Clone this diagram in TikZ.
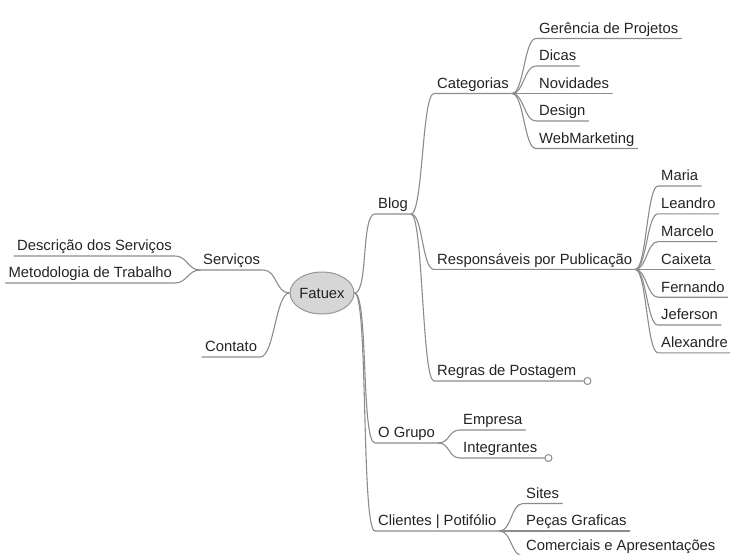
\documentclass[tikz,border=0pt]{standalone}
\usepackage{fontspec}
\setmainfont{Liberation Sans}
\usepackage{tikz}
\usetikzlibrary{shapes.geometric}
\definecolor{ink}{RGB}{35, 35, 35}
\definecolor{branch}{RGB}{140, 140, 140}
\definecolor{bubble}{RGB}{214, 214, 214}
\definecolor{bubbleline}{RGB}{150, 150, 150}

\begin{document}
\begin{tikzpicture}[x=1pt, y=-1pt,
  topic/.style={anchor=south west, inner xsep=3pt, inner ysep=2pt, text height=10.5pt, text depth=3pt, text=ink, font=\fontsize{14.8}{17}\selectfont},
  hub/.style={ellipse, draw=bubbleline, fill=bubble, line width=1pt, inner sep=0pt, minimum width=60pt, minimum height=42pt, text=ink, font=\fontsize{14.8}{17}\selectfont},
  link/.style={branch, line width=1.1pt, line cap=round},
  fold/.style={circle, draw=branch, fill=white, line width=1pt, inner sep=0pt, minimum size=7pt, anchor=west}]

  \pgfmathsetmacro{\cx}{536};
  \pgfmathsetmacro{\rx}{658};
  \pgfmathsetmacro{\gx}{460};
  \pgfmathsetmacro{\sx}{523};

  \useasboundingbox (0, 0) rectangle (730, 554);

  \node[hub] (fatuex) at (322, 293) { Fatuex };

  \node[topic] (servicos) at (200, 270) { Serviços };
  \node[topic, anchor=south east] (descricao) at (175, 256) { Descrição dos Serviços };
  \node[topic, anchor=south east] (metodologia) at (175, 283) { Metodologia de Trabalho };
  \node[topic] (contato) at (202, 357) { Contato };

  \node[topic] (blog) at (375, 214) { Blog };
  \node[topic] (categorias) at (434, 93.5) { Categorias };
  \node[topic] (gerencia) at (\cx, 38.5) { Gerência de Projetos };
  \node[topic] (dicas) at (\cx, 66) { Dicas };
  \node[topic] (novidades) at (\cx, 93.5) { Novidades };
  \node[topic] (design) at (\cx, 121) { Design };
  \node[topic] (webmkt) at (\cx, 148.5) { WebMarketing };

  \node[topic] (responsaveis) at (434, 269.4) { Responsáveis por Publicação };
  \node[topic] (maria) at (\rx, 186) { Maria };
  \node[topic] (leandro) at (\rx, 213.8) { Leandro };
  \node[topic] (marcelo) at (\rx, 241.6) { Marcelo };
  \node[topic] (caixeta) at (\rx, 269.4) { Caixeta };
  \node[topic] (fernando) at (\rx, 297.2) { Fernando };
  \node[topic] (jeferson) at (\rx, 325) { Jeferson };
  \node[topic] (alexandre) at (\rx, 352.8) { Alexandre };

  \node[topic] (regras) at (434, 381) { Regras de Postagem };
  \node[fold] (regrasfold) at ([xshift=4pt]regras.south east) {};

  \node[topic] (ogrupo) at (375, 443) { O Grupo };
  \node[topic] (empresa) at (\gx, 430) { Empresa };
  \node[topic] (integrantes) at (\gx, 458) { Integrantes };
  \node[fold] (integrantesfold) at ([xshift=4pt]integrantes.south east) {};

  \node[topic] (clientes) at (375, 531) { Clientes | Potifólio };
  \node[topic] (sites) at (\sx, 503.5) { Sites };
  \node[topic] (pecas) at (\sx, 531) { Peças Graficas };
  \node[topic] (comerciais) at (\sx, 556) { Comerciais e Apresentações };

  \draw[link] (fatuex.west) .. controls +(-14, 0) and +(14, 0) .. (servicos.south east) -- (servicos.south west);
  \draw[link] (servicos.south west) .. controls +(-12, 0) and +(12, 0) .. (descricao.south east) -- (descricao.south west);
  \draw[link] (servicos.south west) .. controls +(-12, 0) and +(12, 0) .. (metodologia.south east) -- (metodologia.south west);
  \draw[link] (fatuex.west) .. controls +(-14, 0) and +(14, 0) .. (contato.south east) -- (contato.south west);

  \draw[link] (fatuex.east) .. controls +(14, 0) and +(-14, 0) .. (blog.south west) -- (blog.south east);
  \draw[link] (blog.south east) .. controls +(12, 0) and +(-12, 0) .. (categorias.south west) -- (categorias.south east);
  \draw[link] (categorias.south east) .. controls +(12, 0) and +(-12, 0) .. (gerencia.south west) -- (gerencia.south east);
  \draw[link] (categorias.south east) .. controls +(12, 0) and +(-12, 0) .. (dicas.south west) -- (dicas.south east);
  \draw[link] (categorias.south east) -- (novidades.south west) -- (novidades.south east);
  \draw[link] (categorias.south east) .. controls +(12, 0) and +(-12, 0) .. (design.south west) -- (design.south east);
  \draw[link] (categorias.south east) .. controls +(12, 0) and +(-12, 0) .. (webmkt.south west) -- (webmkt.south east);

  \draw[link] (blog.south east) .. controls +(12, 0) and +(-12, 0) .. (responsaveis.south west) -- (responsaveis.south east);
  \draw[link] (responsaveis.south east) .. controls +(11, 0) and +(-11, 0) .. (maria.south west) -- (maria.south east);
  \draw[link] (responsaveis.south east) .. controls +(11, 0) and +(-11, 0) .. (leandro.south west) -- (leandro.south east);
  \draw[link] (responsaveis.south east) .. controls +(11, 0) and +(-11, 0) .. (marcelo.south west) -- (marcelo.south east);
  \draw[link] (responsaveis.south east) -- (caixeta.south west) -- (caixeta.south east);
  \draw[link] (responsaveis.south east) .. controls +(11, 0) and +(-11, 0) .. (fernando.south west) -- (fernando.south east);
  \draw[link] (responsaveis.south east) .. controls +(11, 0) and +(-11, 0) .. (jeferson.south west) -- (jeferson.south east);
  \draw[link] (responsaveis.south east) .. controls +(11, 0) and +(-11, 0) .. (alexandre.south west) -- (alexandre.south east);

  \draw[link] (blog.south east) .. controls +(12, 0) and +(-12, 0) .. (regras.south west) -- (regrasfold.west);

  \draw[link] (fatuex.east) .. controls +(14, 0) and +(-14, 0) .. (ogrupo.south west) -- (ogrupo.south east);
  \draw[link] (ogrupo.south east) .. controls +(12, 0) and +(-12, 0) .. (empresa.south west) -- (empresa.south east);
  \draw[link] (ogrupo.south east) .. controls +(12, 0) and +(-12, 0) .. (integrantes.south west) -- (integrantesfold.west);

  \draw[link] (fatuex.east) .. controls +(14, 0) and +(-14, 0) .. (clientes.south west) -- (clientes.south east);
  \draw[link] (clientes.south east) .. controls +(12, 0) and +(-12, 0) .. (sites.south west) -- (sites.south east);
  \draw[link] (clientes.south east) -- (pecas.south west) -- (pecas.south east);
  \draw[link] (clientes.south east) .. controls +(12, 0) and +(-12, 0) .. (comerciais.south west) -- (comerciais.south east);

\end{tikzpicture}
\end{document}
